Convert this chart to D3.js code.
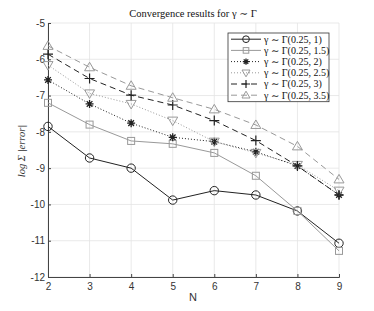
<!DOCTYPE html>
<html><head><meta charset="utf-8">
<script src="https://cdn.jsdelivr.net/npm/d3@7"></script>
<style>body{margin:0;background:#fff}svg{display:block}</style>
</head><body>
<svg id="c" width="374" height="311"></svg>
<script>
const N = [2,3,4,5,6,7,8,9];
const s1 = [-7.85,-8.72,-9.0,-9.88,-9.62,-9.74,-10.18,-11.07];
const s2 = [-7.2,-7.8,-8.25,-8.33,-8.58,-9.21,-10.18,-11.28];
const s3 = [-6.57,-7.23,-7.76,-8.15,-8.27,-8.55,-8.94,-9.74];
const s4 = [-6.16,-6.94,-7.23,-7.69,-8.27,-8.58,-8.91,-9.62];
const s5 = [-5.86,-6.53,-6.99,-7.26,-7.69,-8.24,-8.94,-9.74];
const s6 = [-5.63,-6.22,-6.73,-7.06,-7.38,-7.81,-8.40,-9.31];
const labels = ["γ ∼ Γ(0.25, 1)","γ ∼ Γ(0.25, 1.5)","γ ∼ Γ(0.25, 2)","γ ∼ Γ(0.25, 2.5)","γ ∼ Γ(0.25, 3)","γ ∼ Γ(0.25, 3.5)"];
const xTicks = [2,3,4,5,6,7,8,9];
const yTicks = [-12,-11,-10,-9,-8,-7,-6,-5];

const series = [
  {v:s1, color:"#222", dash:null, marker:"circle"},
  {v:s2, color:"#999", dash:null, marker:"square"},
  {v:s3, color:"#222", dash:"1,2", marker:"star"},
  {v:s4, color:"#999", dash:"1,2", marker:"tdown"},
  {v:s5, color:"#222", dash:"6,4", marker:"plus"},
  {v:s6, color:"#999", dash:"6,4", marker:"tup"}
];

const svg = d3.select("#c");
const L=48, R=339, T=23, B=277;
const x = d3.scaleLinear().domain([2,9]).range([L,R]);
const y = d3.scaleLinear().domain([-12,-5]).range([B,T]);

svg.append("g").selectAll("line").data(xTicks).join("line")
  .attr("x1",d=>x(d)).attr("x2",d=>x(d)).attr("y1",T).attr("y2",B)
  .attr("stroke","#e3e3e3").attr("stroke-width",0.8);
svg.append("g").selectAll("line").data(yTicks).join("line")
  .attr("y1",d=>y(d)).attr("y2",d=>y(d)).attr("x1",L).attr("x2",R)
  .attr("stroke","#e3e3e3").attr("stroke-width",0.8);

const xa = svg.append("g").attr("transform",`translate(0,${B})`)
  .call(d3.axisBottom(x).tickValues(xTicks).tickSize(-3).tickPadding(6).tickFormat(d3.format("d")));
const ya = svg.append("g").attr("transform",`translate(${L},0)`)
  .call(d3.axisLeft(y).tickValues(yTicks).tickSize(-3).tickPadding(3).tickFormat(d=>String(d).replace("−","-")));
[xa,ya].forEach(a=>{
  a.select(".domain").attr("stroke","#444").attr("stroke-width",1);
  a.selectAll(".tick line").attr("stroke","#444");
  a.selectAll("text").attr("font-family","Liberation Sans, Arial, sans-serif").attr("font-size",10).attr("fill","#333");
});

function drawMarker(g, type, cx, cy, color, k){
  k = k||1;
  const s = 4*k;
  if(type==="circle"){
    g.append("circle").attr("cx",cx).attr("cy",cy).attr("r",4.2*k).attr("fill","none").attr("stroke",color).attr("stroke-width",1);
  } else if(type==="square"){
    g.append("rect").attr("x",cx-3.5*k).attr("y",cy-3.5*k).attr("width",7*k).attr("height",7*k).attr("fill","none").attr("stroke",color).attr("stroke-width",1);
  } else if(type==="star"){
    const p = d3.path();
    for(let i=0;i<4;i++){const a=i*Math.PI/4; p.moveTo(cx-Math.cos(a)*s,cy-Math.sin(a)*s); p.lineTo(cx+Math.cos(a)*s,cy+Math.sin(a)*s);}
    g.append("path").attr("d",p.toString()).attr("stroke",color).attr("stroke-width",1.3).attr("fill","none");
  } else if(type==="plus"){
    const p = d3.path(); p.moveTo(cx-5*k,cy); p.lineTo(cx+5*k,cy); p.moveTo(cx,cy-5*k); p.lineTo(cx,cy+5*k);
    g.append("path").attr("d",p.toString()).attr("stroke",color).attr("stroke-width",1.2);
  } else if(type==="tdown"){
    g.append("path").attr("d",`M${cx-5*k},${cy-3.5*k}L${cx+5*k},${cy-3.5*k}L${cx},${cy+5*k}Z`).attr("fill","none").attr("stroke",color).attr("stroke-width",1);
  } else if(type==="tup"){
    g.append("path").attr("d",`M${cx-5*k},${cy+3.5*k}L${cx+5*k},${cy+3.5*k}L${cx},${cy-5*k}Z`).attr("fill","none").attr("stroke",color).attr("stroke-width",1);
  }
}

const line = d3.line().x((d,i)=>x(N[i])).y(d=>y(d));
series.forEach(s=>{
  const g = svg.append("g");
  g.append("path").datum(s.v).attr("d",line).attr("fill","none")
    .attr("stroke",s.color).attr("stroke-width",1).attr("stroke-dasharray",s.dash);
  s.v.forEach((v,i)=>drawMarker(g,s.marker,x(N[i]),y(v),s.color,1));
});

const lg = svg.append("g");
const lx=228, ly=33, lw=101, rowH=11.2;
lg.append("rect").attr("x",lx).attr("y",ly).attr("width",lw).attr("height",rowH*6+1.5)
  .attr("fill","#fff").attr("stroke","#333").attr("stroke-width",0.8);
series.forEach((s,i)=>{
  const cy = ly + 6.2 + i*rowH;
  lg.append("line").attr("x1",lx+3).attr("x2",lx+33).attr("y1",cy).attr("y2",cy)
    .attr("stroke",s.color).attr("stroke-width",1).attr("stroke-dasharray",s.dash);
  drawMarker(lg,s.marker,lx+18,cy,s.color,0.8);
  lg.append("text").attr("x",lx+36).attr("y",cy+3.3).text(labels[i])
    .attr("font-family","Liberation Serif, DejaVu Serif, serif").attr("font-size",10).attr("fill","#111");
});

svg.append("text").attr("x",193).attr("y",17).attr("text-anchor","middle")
  .attr("font-family","Liberation Serif, DejaVu Serif, serif").attr("font-size",10.5).attr("fill","#111")
  .text("Convergence results for γ ∼ Γ");
svg.append("text").attr("x",193).attr("y",301).attr("text-anchor","middle")
  .attr("font-family","Liberation Sans, Arial, sans-serif").attr("font-size",11).attr("fill","#333").text("N");
svg.append("text").attr("transform","translate(25,151) rotate(-90)").attr("text-anchor","middle")
  .attr("font-family","Liberation Serif, DejaVu Serif, serif").attr("font-style","italic").attr("font-size",10.5).attr("fill","#333")
  .text("log Σ |error|");
</script>
</body></html>
